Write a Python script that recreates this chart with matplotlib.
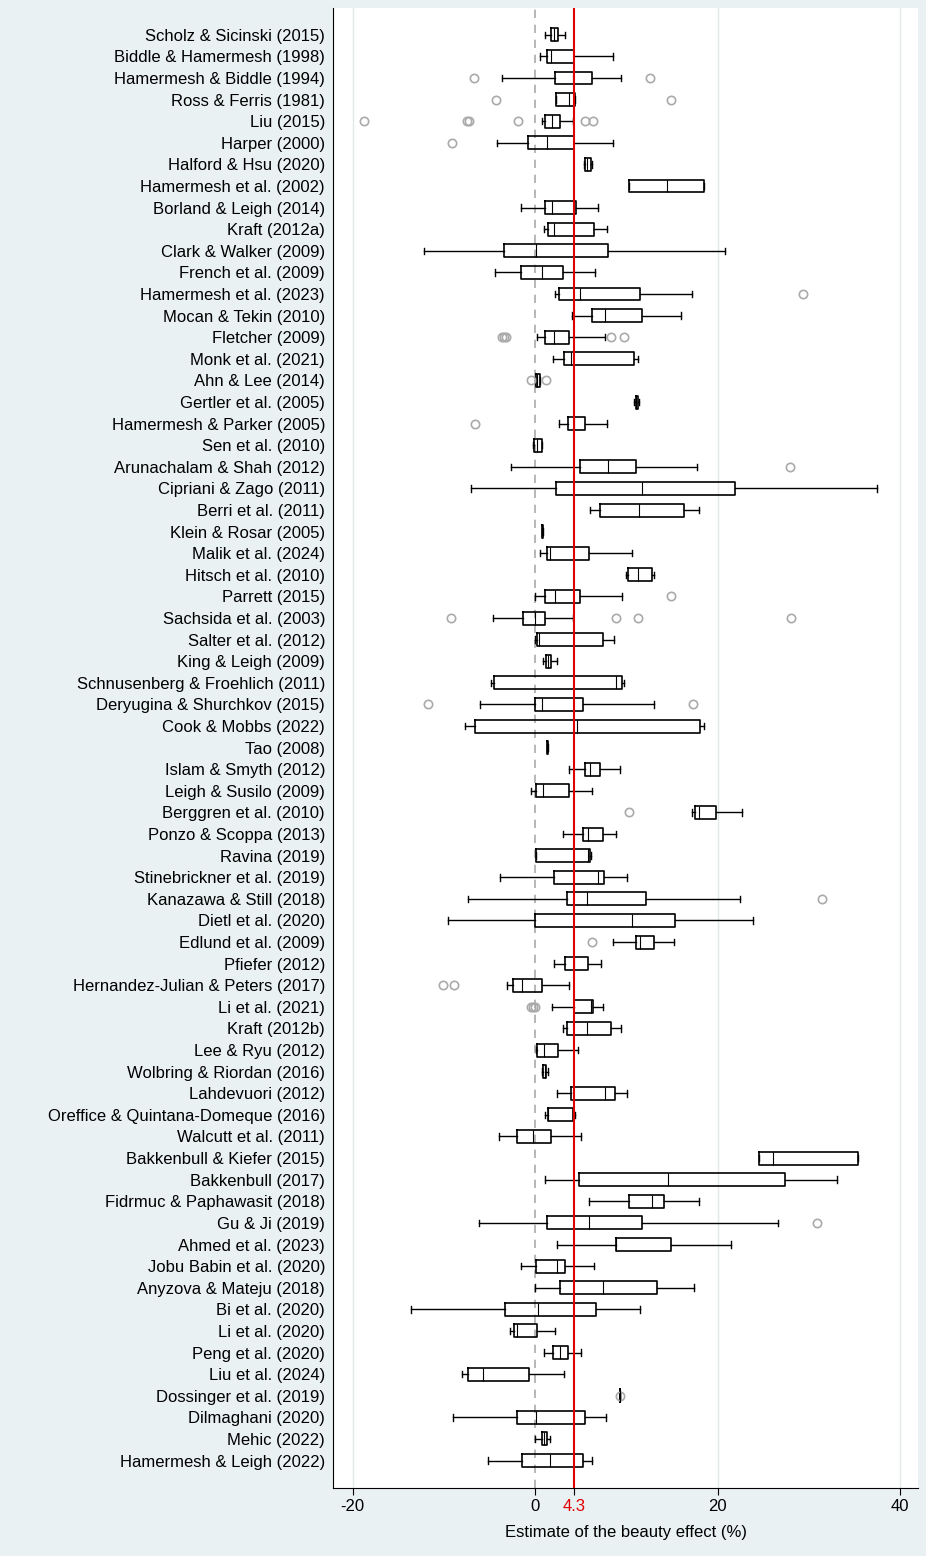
import matplotlib.pyplot as plt

studies = [
    "Scholz & Sicinski (2015)", "Biddle & Hamermesh (1998)", "Hamermesh & Biddle (1994)",
    "Ross & Ferris (1981)", "Liu (2015)", "Harper (2000)", "Halford & Hsu (2020)",
    "Hamermesh et al. (2002)", "Borland & Leigh (2014)", "Kraft (2012a)", "Clark & Walker (2009)",
    "French et al. (2009)", "Hamermesh et al. (2023)", "Mocan & Tekin (2010)", "Fletcher (2009)",
    "Monk et al. (2021)", "Ahn & Lee (2014)", "Gertler et al. (2005)", "Hamermesh & Parker (2005)",
    "Sen et al. (2010)", "Arunachalam & Shah (2012)", "Cipriani & Zago (2011)", "Berri et al. (2011)",
    "Klein & Rosar (2005)", "Malik et al. (2024)", "Hitsch et al. (2010)", "Parrett (2015)",
    "Sachsida et al. (2003)", "Salter et al. (2012)", "King & Leigh (2009)",
    "Schnusenberg & Froehlich (2011)", "Deryugina & Shurchkov (2015)", "Cook & Mobbs (2022)",
    "Tao (2008)", "Islam & Smyth (2012)", "Leigh & Susilo (2009)", "Berggren et al. (2010)",
    "Ponzo & Scoppa (2013)", "Ravina (2019)", "Stinebrickner et al. (2019)", "Kanazawa & Still (2018)",
    "Dietl et al. (2020)", "Edlund et al. (2009)", "Pfiefer (2012)", "Hernandez-Julian & Peters (2017)",
    "Li et al. (2021)", "Kraft (2012b)", "Lee & Ryu (2012)", "Wolbring & Riordan (2016)",
    "Lahdevuori (2012)", "Oreffice & Quintana-Domeque (2016)", "Walcutt et al. (2011)",
    "Bakkenbull & Kiefer (2015)", "Bakkenbull (2017)", "Fidrmuc & Paphawasit (2018)", "Gu & Ji (2019)",
    "Ahmed et al. (2023)", "Jobu Babin et al. (2020)", "Anyzova & Mateju (2018)", "Bi et al. (2020)",
    "Li et al. (2020)", "Peng et al. (2020)", "Liu et al. (2024)", "Dossinger et al. (2019)",
    "Dilmaghani (2020)", "Mehic (2022)", "Hamermesh & Leigh (2022)",
]

# whisker low, q1, median, q3, whisker high
box_stats = [
    (1.1, 1.7, 2.1, 2.5, 3.3), (0.5, 1.3, 1.7, 4.3, 8.5), (-3.6, 2.2, 4.2, 6.2, 9.4),
    (2.3, 2.3, 3.7, 4.4, 4.4), (0.7, 1.1, 1.9, 2.7, 4.2), (-4.2, -0.8, 1.3, 4.3, 8.5),
    (5.4, 5.5, 5.7, 6.1, 6.2), (10.3, 10.3, 14.4, 18.5, 18.5), (-1.6, 1.1, 1.9, 4.5, 6.9),
    (1.0, 1.4, 2.1, 6.4, 7.9), (-12.2, -3.4, 0.1, 8.0, 20.8), (-4.4, -1.5, 0.7, 3.1, 6.6),
    (2.2, 2.6, 4.9, 11.5, 17.2), (4.0, 6.2, 7.7, 11.7, 16.0), (0.2, 1.1, 2.1, 3.7, 7.7),
    (2.0, 3.2, 3.9, 10.8, 11.3), (0.0, 0.1, 0.2, 0.5, 0.5), (10.8, 11.0, 11.0, 11.3, 11.4),
    (2.6, 3.6, 4.3, 5.5, 7.9), (-0.2, -0.1, 0.2, 0.7, 0.7), (-2.6, 4.9, 8.0, 11.0, 17.7),
    (-7.0, 2.3, 11.7, 21.9, 37.5), (6.0, 7.1, 11.4, 16.3, 18.0), (0.7, 0.7, 0.8, 0.9, 0.9),
    (0.5, 1.3, 1.6, 5.9, 10.6), (9.9, 10.2, 11.3, 12.8, 13.0), (0.0, 1.1, 2.2, 4.9, 9.5),
    (-4.6, -1.3, 0.0, 1.1, 4.2), (0.0, 0.2, 0.4, 7.4, 8.6), (0.9, 1.2, 1.4, 1.7, 2.4),
    (-4.8, -4.5, 8.9, 9.5, 9.7), (-6.0, 0.0, 0.7, 5.2, 13.0), (-7.7, -6.6, 4.6, 18.1, 18.5),
    (1.3, 1.3, 1.3, 1.4, 1.4), (3.7, 5.5, 6.0, 7.1, 9.3), (-0.4, 0.1, 0.9, 3.7, 6.2),
    (17.2, 17.5, 18.0, 19.8, 22.7), (3.1, 5.2, 5.8, 7.4, 8.9), (0.1, 0.1, 5.8, 6.0, 6.1),
    (-3.8, 2.1, 6.9, 7.5, 10.1), (-7.4, 3.5, 5.7, 12.1, 22.4), (-9.5, 0.0, 10.6, 15.3, 23.9),
    (8.5, 11.0, 11.5, 13.0, 15.2), (2.1, 3.3, 4.3, 5.8, 7.2), (-3.1, -2.4, -1.4, 0.7, 3.7),
    (1.9, 4.3, 6.1, 6.3, 7.4), (3.1, 3.5, 5.7, 8.3, 9.4), (0.1, 0.2, 1.0, 2.5, 4.7),
    (0.8, 0.9, 1.1, 1.2, 1.4), (2.4, 3.9, 7.7, 8.7, 10.1), (1.1, 1.4, 1.4, 4.2, 4.4),
    (-4.0, -2.0, -0.2, 1.7, 5.0), (24.5, 24.5, 26.0, 35.4, 35.4), (1.1, 4.8, 14.5, 27.4, 33.1),
    (5.9, 10.3, 12.8, 14.1, 18.0), (-6.2, 1.3, 5.9, 11.7, 26.6), (2.4, 8.9, 8.9, 14.9, 21.5),
    (-1.5, 0.1, 2.4, 3.3, 6.4), (0.0, 2.7, 7.4, 13.4, 17.4), (-13.6, -3.3, 0.3, 6.7, 11.5),
    (-2.7, -2.3, -2.0, 0.2, 2.2), (1.0, 2.0, 2.7, 3.6, 5.0), (-8.0, -7.4, -5.7, -0.7, 3.2),
    (9.3, 9.3, 9.3, 9.3, 9.3), (-9.0, -2.0, 0.1, 5.5, 7.8), (0.0, 0.7, 1.0, 1.3, 1.6),
    (-5.2, -1.4, 1.6, 5.2, 6.2),
]

outliers = {
    "Hamermesh & Biddle (1994)": [-6.7, 12.6],
    "Ross & Ferris (1981)": [-4.3, 14.9],
    "Liu (2015)": [-18.7, -7.5, -7.2, -1.9, 5.5, 6.3],
    "Harper (2000)": [-9.1],
    "Hamermesh et al. (2023)": [29.3],
    "Fletcher (2009)": [-3.6, -3.4, -3.2, 8.3, 9.7],
    "Ahn & Lee (2014)": [-0.5, 1.2],
    "Hamermesh & Parker (2005)": [-6.6],
    "Arunachalam & Shah (2012)": [27.9],
    "Parrett (2015)": [14.9],
    "Sachsida et al. (2003)": [-9.2, 8.9, 11.3, 28.0],
    "Deryugina & Shurchkov (2015)": [-11.7, 17.3],
    "Berggren et al. (2010)": [10.3],
    "Kanazawa & Still (2018)": [31.4],
    "Edlund et al. (2009)": [6.2],
    "Hernandez-Julian & Peters (2017)": [-10.1, -8.9],
    "Li et al. (2021)": [-0.4, -0.2, 0.0],
    "Gu & Ji (2019)": [30.9],
    "Dossinger et al. (2019)": [9.3],
}

mean_effect = 4.3

stats = []
for name, (wl, q1, med, q3, wh) in zip(studies, box_stats):
    stats.append(dict(label=name, whislo=wl, q1=q1, med=med, q3=q3, whishi=wh,
                      fliers=outliers.get(name, [])))

fig = plt.figure(figsize=(9.26, 15.56), dpi=100, facecolor="#eaf1f3")
ax = fig.add_axes([0.36, 0.044, 0.631, 0.951])
ax.set_facecolor("white")

positions = list(range(1, len(studies) + 1))
ax.bxp(stats, positions=positions, vert=False, widths=0.6, showfliers=True,
       boxprops=dict(color="black", linewidth=1.2),
       medianprops=dict(color="black", linewidth=0.8),
       whiskerprops=dict(color="black", linewidth=1.0),
       capprops=dict(color="black", linewidth=1.0),
       flierprops=dict(marker="o", markerfacecolor="none", markeredgecolor="#aaaaaa",
                       markersize=6, markeredgewidth=1.2))

for x in (-20, 20, 40):
    ax.axvline(x, color="#e4e8ea", linewidth=1, zorder=0)
ax.axvline(0, color="#aaaaaa", linestyle=(0, (5, 4)), linewidth=1.2, zorder=0)
ax.axvline(mean_effect, color="#e00000", linewidth=1.5, zorder=3)

ax.set_xlim(-22.1, 41.9)
ax.set_ylim(len(studies) + 1.25, -0.25)
ax.set_yticks(positions)
ax.set_yticklabels(studies, fontsize=12, family="Liberation Sans")
ax.set_xticks([-20, 0, mean_effect, 20, 40])
ax.set_xticklabels(["-20", "0", "4.3", "20", "40"], fontsize=12, family="Liberation Sans")
ax.get_xticklabels()[2].set_color("#e00000")
ax.tick_params(axis="y", length=0, pad=6)
ax.tick_params(axis="x", length=5)
ax.set_xlabel("Estimate of the beauty effect (%)", fontsize=12, family="Liberation Sans", labelpad=8)
for s in ("top", "right"):
    ax.spines[s].set_visible(False)

fig.savefig("out.png", dpi=100, facecolor=fig.get_facecolor())
